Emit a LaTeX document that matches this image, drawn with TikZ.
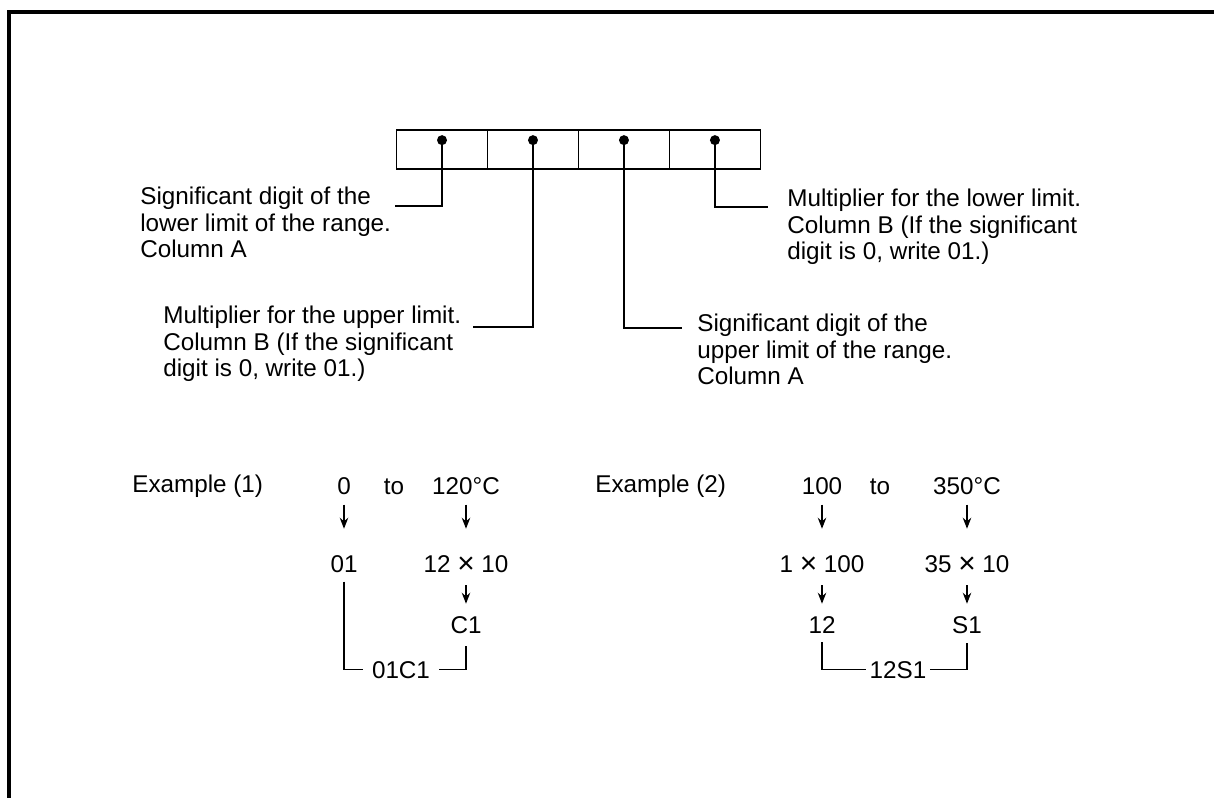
\documentclass[tikz,border=0pt]{standalone}
\usepackage{fontspec}
\setmainfont{Liberation Sans}
\usetikzlibrary{positioning,arrows.meta,calc}
\newcommand{\bigtimes}{\raisebox{-0.6pt}{\fontsize{17}{17}\selectfont ×}}

\begin{document}
\begin{tikzpicture}[
x=0.02cm, y=-0.02cm,
node distance=0pt,
cell/.style={draw, line width=0.7pt, outer sep=0pt, minimum width=1.82cm, minimum height=0.78cm},
dot/.style={circle, fill, inner sep=0pt, minimum size=0.2cm},
note/.style={anchor=north west, inner sep=0pt, align=left, font=\fontsize{13.8}{15.1}\selectfont},
num/.style={anchor=base, inner sep=0pt, font=\fontsize{13.8}{15.1}\selectfont},
code/.style={num, inner xsep=5pt},
lead/.style={line width=0.8pt},
arr/.style={-{Stealth[length=2.2mm,width=1.7mm]}, line width=0.8pt, shorten <=0.2cm}
]
\useasboundingbox (0,0) rectangle (1214,798);
\draw[line width=0.07cm] (9,798) -- (9,12) -- (1214,12);

% code field
\node[cell] (c1) at (442,149.5) {};
\node[cell, right=of c1] (c2) {};
\node[cell, right=of c2] (c3) {};
\node[cell, right=of c3] (c4) {};
\foreach \i in {1,...,4}
  \node[dot] (d\i) at ($(c\i.north)!0.26!(c\i.south)$) {};

% explanations
\node[note] (lowsig) at (140,187) {Significant digit of the\\lower limit of the range.\\Column A};
\node[note] (uppmul) at (163,306) {Multiplier for the upper limit.\\Column B (If the significant\\digit is 0, write 01.)};
\node[note] (uppsig) at (697,314) {Significant digit of the\\upper limit of the range.\\Column A};
\node[note] (lowmul) at (787,189) {Multiplier for the lower limit.\\Column B (If the significant\\digit is 0, write 01.)};
\coordinate (l1) at (395,206);
\coordinate (l2) at (473,327);
\coordinate (l3) at (682,328);
\coordinate (l4) at (768,207);
\draw[lead] (d1.center) |- (l1);
\draw[lead] (d2.center) |- (l2);
\draw[lead] (d3.center) |- (l3);
\draw[lead] (d4.center) |- (l4);

% example (1)
\node[num, anchor=base west] (ex1) at (132,492) {Example (1)};
\node[num] (e1lo) at (344,494) {0};
\node[num] (e1to) at (394,494) {to};
\node[num] (e1hi) at (466,494) {120°C};
\node[num] (e1lom) at (344,572) {01};
\node[num] (e1him) at (466,572) {12 \bigtimes{} 10};
\node[num] (e1hic) at (466,633) {C1};
\node[code] (e1code) at (401,678) {01C1};
\draw[arr, shorten >=0.52cm] (e1lo.south) -- (e1lom.north);
\draw[arr, shorten >=0.52cm] (e1hi.south) -- (e1hi.south |- e1him.north);
\draw[arr, shorten <=0.24cm, shorten >=0.24cm] (e1him.south) -- (e1hic.north);
\draw[lead, shorten <=0.18cm] (e1lom.south) |- (e1code.west);
\draw[lead, shorten >=0.24cm] (e1code.east) -| (e1hic.south);

% example (2)
\node[num, anchor=base west] (ex2) at (595,492) {Example (2)};
\node[num] (e2lo) at (822,494) {100};
\node[num] (e2to) at (880,494) {to};
\node[num] (e2hi) at (967,494) {350°C};
\node[num] (e2lom) at (822,572) {1 \bigtimes{} 100};
\node[num] (e2him) at (967,572) {35 \bigtimes{} 10};
\node[num] (e2loc) at (822,633) {12};
\node[num] (e2hic) at (967,633) {S1};
\node[code, inner xsep=2pt] (e2code) at (898,678) {12S1};
\draw[arr, shorten >=0.52cm] (e2lo.south) -- (e2lo.south |- e2lom.north);
\draw[arr, shorten >=0.52cm] (e2hi.south) -- (e2hi.south |- e2him.north);
\draw[arr, shorten <=0.24cm, shorten >=0.24cm] (e2lom.south) -- (e2lom.south |- e2loc.north);
\draw[arr, shorten <=0.24cm, shorten >=0.24cm] (e2him.south) -- (e2him.south |- e2hic.north);
\draw[lead, shorten <=0.18cm] (e2loc.south) |- (e2code.west);
\draw[lead, shorten >=0.18cm] (e2code.east) -| (e2hic.south);
\end{tikzpicture}
\end{document}
